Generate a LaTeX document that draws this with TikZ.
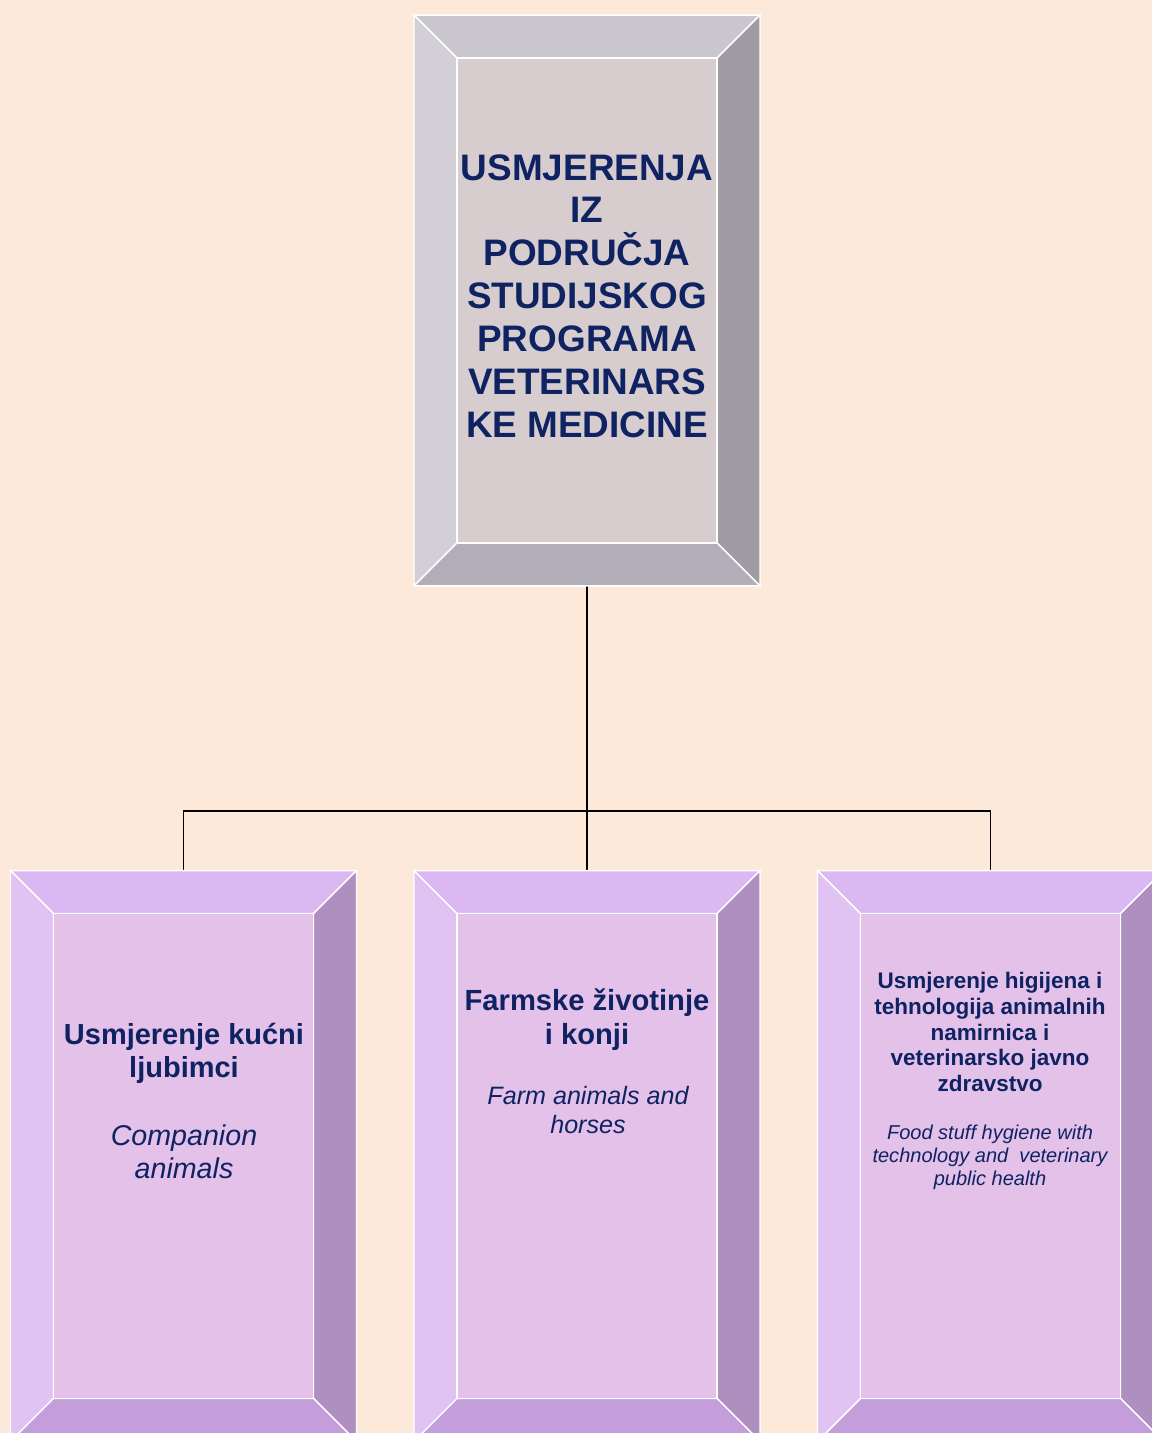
\documentclass[tikz,border=0pt]{standalone}
\usepackage{fontspec}
\setmainfont{Liberation Sans}
\usetikzlibrary{calc}

\definecolor{bgpeach}{HTML}{FCE9DA}
\definecolor{navytext}{HTML}{0F2262}
% grey frame
\definecolor{greytop}{HTML}{CAC6CE}
\definecolor{greyleft}{HTML}{D3CFD6}
\definecolor{greyright}{HTML}{A19CA3}
\definecolor{greybottom}{HTML}{B2ADB8}
\definecolor{greyinner}{HTML}{D7CDCF}
% lilac frame
\definecolor{liltop}{HTML}{DCB8F3}
\definecolor{lilleft}{HTML}{E0C2F3}
\definecolor{lilright}{HTML}{AF8FC0}
\definecolor{lilbottom}{HTML}{C39EDB}
\definecolor{lilinner}{HTML}{E3C1E9}

\tikzset{
  frame/.style = {rectangle, minimum width = 6.92cm, minimum height = 11.42cm, inner sep = 0pt, outer sep = 0pt},
  face/.style  = {draw = white, line width = 0.8pt, line join = miter},
  link/.style  = {draw = black, line width = 1pt},
  headtext/.style = {text = navytext, align = center, inner sep = 0pt},
}

% bevelled frame round a node: name, top, left, right, bottom, inner
\newcommand{\bevelframe}[6]{%
  \coordinate (#1-a) at ($(#1.north west)+(43,43)$);
  \coordinate (#1-b) at ($(#1.north east)+(-43,43)$);
  \coordinate (#1-c) at ($(#1.south east)+(-43,-43)$);
  \coordinate (#1-d) at ($(#1.south west)+(43,-43)$);
  \fill[#2, face] (#1.north west) -- (#1.north east) -- (#1-b) -- (#1-a) -- cycle;
  \fill[#3, face] (#1.north west) -- (#1-a) -- (#1-d) -- (#1.south west) -- cycle;
  \fill[#4, face] (#1.north east) -- (#1.south east) -- (#1-c) -- (#1-b) -- cycle;
  \fill[#5, face] (#1.south west) -- (#1-d) -- (#1-c) -- (#1.south east) -- cycle;
  \fill[#6, face] (#1-a) -- (#1-b) -- (#1-c) -- (#1-d) -- cycle;
}

\begin{document}
\begin{tikzpicture}[x = 0.02cm, y = -0.02cm]
  \useasboundingbox (0,0) rectangle (1152,1433);
  \clip (0,0) rectangle (1152,1433);
  \fill[bgpeach] (0,0) rectangle (1152,1433);

  % frames
  \node[frame] (root) at (587,300.5) {};
  \node[frame] (kucni) at (183.5,1156) {};
  \node[frame] (farm) at (587,1156) {};
  \node[frame] (higijena) at (990.5,1156) {};
  \coordinate (bus) at (587,811);

  % connectors
  \draw[link] (root.south) -- (farm.north);
  \draw[link] (kucni.north) -- (kucni.north |- bus) -- (higijena.north |- bus) -- (higijena.north);

  \bevelframe{root}{greytop}{greyleft}{greyright}{greybottom}{greyinner}
  \bevelframe{kucni}{liltop}{lilleft}{lilright}{lilbottom}{lilinner}
  \bevelframe{farm}{liltop}{lilleft}{lilright}{lilbottom}{lilinner}
  \bevelframe{higijena}{liltop}{lilleft}{lilright}{lilbottom}{lilinner}

  % texts
  \node[headtext, font = {\fontsize{21}{24.4}\selectfont\bfseries}] (roottitle) at (587,296)
    {USMJERENJA\\ IZ\\ PODRUČJA\\ STUDIJSKOG\\ PROGRAMA\\ VETERINARS\\ KE MEDICINE};
  \node[headtext, font = {\fontsize{16.5}{18.7}\selectfont\bfseries}] (kucnihead) at (184,1053)
    {Usmjerenje kućni\\ ljubimci};
  \node[headtext, font = {\fontsize{16.3}{18.7}\selectfont\itshape}] (kucnisub) at (184,1152)
    {Companion\\ animals};
  \node[headtext, font = {\fontsize{16.6}{19.3}\selectfont\bfseries}] (farmhead) at (587,1020)
    {Farmske životinje\\ i konji};
  \node[headtext, font = {\fontsize{14.3}{16.4}\selectfont\itshape}] (farmsub) at (588,1110)
    {Farm animals and\\ horses};
  \node[headtext, font = {\fontsize{12.8}{14.7}\selectfont\bfseries}] (higijenahead) at (990,1032)
    {Usmjerenje higijena i\\ tehnologija animalnih\\ namirnica i\\ veterinarsko javno\\ zdravstvo};
  \node[headtext, font = {\fontsize{11.4}{13}\selectfont\itshape}] (higijenasub) at (990,1157)
    {Food stuff hygiene with\\ technology and \ veterinary\\ public health};
\end{tikzpicture}
\end{document}
